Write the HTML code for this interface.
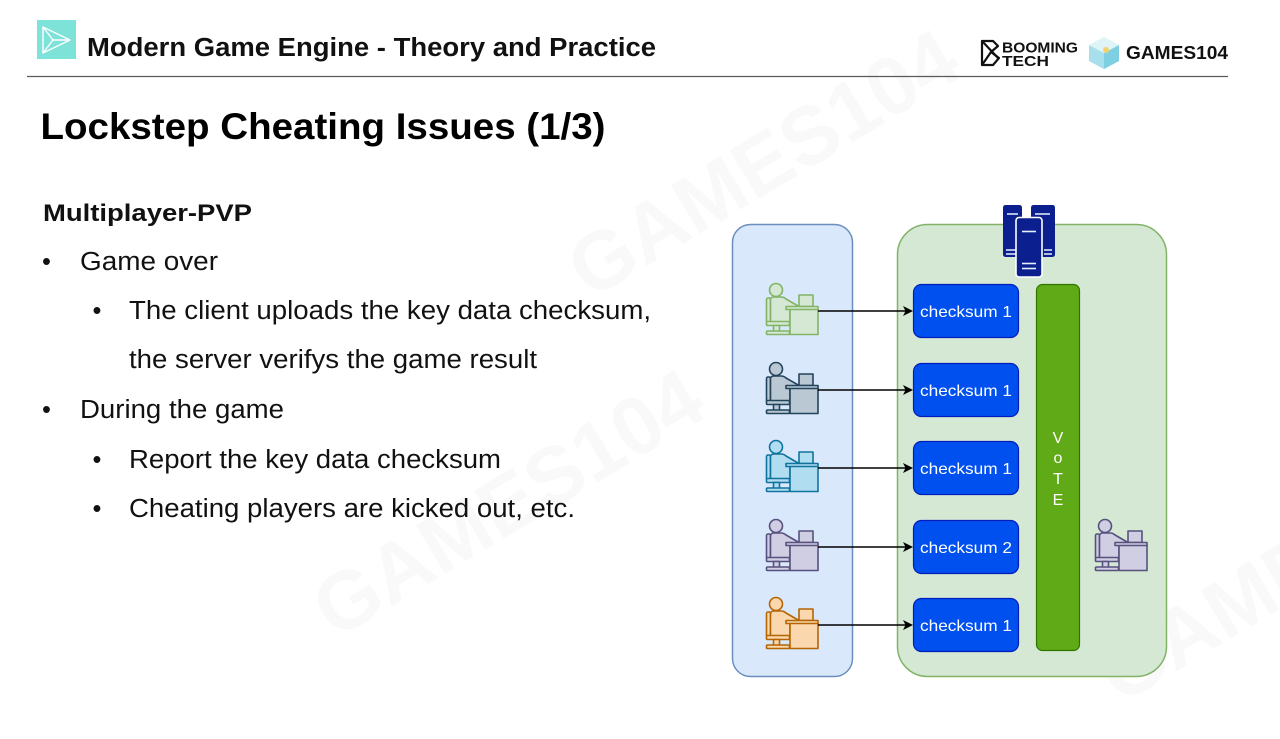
<!DOCTYPE html>
<html>
<head>
<meta charset="utf-8">
<style>
  html, body { margin: 0; padding: 0; background: #ffffff; }
  body { width: 1280px; height: 739px; overflow: hidden; }
  svg { display: block; }
  text { font-family: "Liberation Sans", Arial, sans-serif; }
</style>
</head>
<body>
<svg width="1280" height="739" viewBox="0 0 1280 739" xmlns="http://www.w3.org/2000/svg">
  <defs>
    <g id="person">
      <rect x="11.5" y="18" width="4" height="25" rx="1.5"/>
      <path d="M15.5,20 Q15.5,17 19,17 L26,17 Q29,17 31,19 L44,26.5 L44,30 L35,29 L35,42 L15.5,42 Z"/>
      <circle cx="21" cy="10" r="6.5"/>
      <rect x="11.5" y="41.5" width="23" height="4" rx="1"/>
      <rect x="18.5" y="45.5" width="6" height="6"/>
      <rect x="11.5" y="51" width="23" height="3.5" rx="1"/>
      <rect x="44" y="15" width="14" height="11.5"/>
      <rect x="35" y="29" width="28" height="25.5"/>
      <rect x="31" y="26.5" width="32" height="3"/>
    </g>
  </defs>

  <!-- faint watermarks -->
  <g fill="#f9f9f9" font-weight="bold" font-size="82">
    <text transform="translate(335,640) rotate(-31)">GAMES104</text>
    <text transform="translate(590,300) rotate(-31)">GAMES104</text>
    <text transform="translate(1120,705) rotate(-31)">GAMES104</text>
  </g>

  <!-- header logo -->
  <rect x="37" y="20" width="39" height="39" fill="#7de2d8"/>
  <path d="M43,27 L70,40 L43,53 Z M43,53 L53,40 L70,40 M53,40 L43,27" fill="none" stroke="#ffffff" stroke-width="1.4" stroke-linejoin="round"/>

  <!-- header title -->
  <text x="87" y="56" font-size="25.5" font-weight="bold" fill="#111" textLength="569" lengthAdjust="spacingAndGlyphs">Modern Game Engine - Theory and Practice</text>

  <!-- right logos -->
  <g fill="none" stroke="#111" stroke-width="2.2" stroke-linejoin="round">
    <path d="M982,41 L993,41 L998,46 L991,52 L999,58 L993,65 L982,65 Z"/>
    <path d="M982,41 L998,58 M982,65 L991,52"/>
  </g>
  <text x="1002" y="52.5" font-size="15" font-weight="bold" fill="#111" textLength="76" lengthAdjust="spacingAndGlyphs">BOOMING</text>
  <text x="1002" y="66" font-size="15" font-weight="bold" fill="#111" textLength="47" lengthAdjust="spacingAndGlyphs">TECH</text>
  <!-- cube -->
  <polygon points="1104,37 1119,45 1119,61 1104,69 1089,61 1089,45" fill="#bfe9f1"/>
  <polygon points="1104,53 1119,45 1119,61 1104,69" fill="#7fcfe3"/>
  <polygon points="1104,53 1089,45 1089,61 1104,69" fill="#a8dfec"/>
  <polygon points="1104,37 1119,45 1104,53 1089,45" fill="#dff4f7"/>
  <circle cx="1106" cy="50" r="3" fill="#f2d36a"/>
  <text x="1126" y="59" font-size="18.5" font-weight="bold" fill="#111" textLength="102" lengthAdjust="spacingAndGlyphs">GAMES104</text>

  <!-- header rule -->
  <line x1="27" y1="76.5" x2="1228" y2="76.5" stroke="#5a5a5a" stroke-width="1.3"/>

  <!-- slide title -->
  <text x="40.5" y="139" font-size="37" font-weight="bold" fill="#000" textLength="565" lengthAdjust="spacingAndGlyphs">Lockstep Cheating Issues (1/3)</text>

  <!-- body text -->
  <text x="43" y="221" font-size="24" font-weight="bold" fill="#111" textLength="209" lengthAdjust="spacingAndGlyphs">Multiplayer-PVP</text>

  <text x="42" y="270" font-size="25.5" fill="#111">•</text>
  <text x="80" y="270" font-size="25.5" fill="#111" textLength="138" lengthAdjust="spacingAndGlyphs">Game over</text>

  <text x="92.5" y="319" font-size="25.5" fill="#111">•</text>
  <text x="129" y="319" font-size="25.5" fill="#111" textLength="522" lengthAdjust="spacingAndGlyphs">The client uploads the key data checksum,</text>
  <text x="129" y="368" font-size="25.5" fill="#111" textLength="408" lengthAdjust="spacingAndGlyphs">the server verifys the game result</text>

  <text x="42" y="418" font-size="25.5" fill="#111">•</text>
  <text x="80" y="418" font-size="25.5" fill="#111" textLength="204" lengthAdjust="spacingAndGlyphs">During the game</text>

  <text x="92.5" y="468" font-size="25.5" fill="#111">•</text>
  <text x="129" y="468" font-size="25.5" fill="#111" textLength="372" lengthAdjust="spacingAndGlyphs">Report the key data checksum</text>

  <text x="92.5" y="517" font-size="25.5" fill="#111">•</text>
  <text x="129" y="517" font-size="25.5" fill="#111" textLength="446" lengthAdjust="spacingAndGlyphs">Cheating players are kicked out, etc.</text>

  <!-- diagram containers -->
  <rect x="732.5" y="224.5" width="120" height="452" rx="18" fill="#dae8fc" stroke="#6c8ebf" stroke-width="1.5"/>
  <rect x="897.5" y="224.5" width="269" height="452" rx="30" fill="#d5e8d4" stroke="#82b366" stroke-width="1.5"/>

  <!-- server icon -->
  <g>
    <rect x="1003" y="205" width="19" height="52" rx="2.5" fill="#0c1f8e"/>
    <rect x="1031" y="205" width="24" height="52" rx="2.5" fill="#0c1f8e"/>
    <line x1="1006" y1="250" x2="1017" y2="250" stroke="#e6f0ff" stroke-width="1.5"/>
    <line x1="1006" y1="254" x2="1017" y2="254" stroke="#e6f0ff" stroke-width="1.5"/>
    <line x1="1044" y1="250" x2="1052" y2="250" stroke="#e6f0ff" stroke-width="1.5"/>
    <line x1="1044" y1="254" x2="1052" y2="254" stroke="#e6f0ff" stroke-width="1.5"/>
    <line x1="1035" y1="214" x2="1050" y2="214" stroke="#e6f0ff" stroke-width="1.5"/>
    <line x1="1007" y1="214" x2="1018" y2="214" stroke="#e6f0ff" stroke-width="1.5"/>
    <rect x="1016" y="217.5" width="26" height="59.5" rx="3" fill="#0c1f8e" stroke="#ffffff" stroke-width="1.6"/>
    <line x1="1022" y1="231.5" x2="1036" y2="231.5" stroke="#e6f0ff" stroke-width="1.6"/>
    <line x1="1022" y1="263.5" x2="1036" y2="263.5" stroke="#e6f0ff" stroke-width="1.6"/>
    <line x1="1022" y1="268.5" x2="1036" y2="268.5" stroke="#e6f0ff" stroke-width="1.6"/>
  </g>

  <!-- persons -->
  <use href="#person" transform="translate(755,280)" fill="#d5e8d4" stroke="#82b366" stroke-width="1.6" stroke-linejoin="round"/>
  <use href="#person" transform="translate(755,359)" fill="#bac8d3" stroke="#23445d" stroke-width="1.6" stroke-linejoin="round"/>
  <use href="#person" transform="translate(755,437)" fill="#b1ddf0" stroke="#10739e" stroke-width="1.6" stroke-linejoin="round"/>
  <use href="#person" transform="translate(755,516)" fill="#d0cee2" stroke="#56517e" stroke-width="1.6" stroke-linejoin="round"/>
  <use href="#person" transform="translate(755,594)" fill="#fad7ac" stroke="#b46504" stroke-width="1.6" stroke-linejoin="round"/>
  <use href="#person" transform="translate(1084,516)" fill="#d0cee2" stroke="#56517e" stroke-width="1.6" stroke-linejoin="round"/>

  <!-- arrows -->
  <g stroke="#000" stroke-width="1.4" fill="#000">
    <line x1="818" y1="311" x2="906" y2="311"/>
    <polygon points="913,311 903,306 905.5,311 903,316" stroke="none"/>
    <line x1="818" y1="390" x2="906" y2="390"/>
    <polygon points="913,390 903,385 905.5,390 903,395" stroke="none"/>
    <line x1="818" y1="468" x2="906" y2="468"/>
    <polygon points="913,468 903,463 905.5,468 903,473" stroke="none"/>
    <line x1="818" y1="547" x2="906" y2="547"/>
    <polygon points="913,547 903,542 905.5,547 903,552" stroke="none"/>
    <line x1="818" y1="625" x2="906" y2="625"/>
    <polygon points="913,625 903,620 905.5,625 903,630" stroke="none"/>
  </g>

  <!-- checksum boxes -->
  <g fill="#0050ef" stroke="#001dbc" stroke-width="1.2">
    <rect x="913.5" y="284.5" width="105" height="53" rx="8"/>
    <rect x="913.5" y="363.5" width="105" height="53" rx="8"/>
    <rect x="913.5" y="441.5" width="105" height="53" rx="8"/>
    <rect x="913.5" y="520.5" width="105" height="53" rx="8"/>
    <rect x="913.5" y="598.5" width="105" height="53" rx="8"/>
  </g>
  <g fill="#ffffff" font-size="16" text-anchor="middle">
    <text x="966" y="317" textLength="92" lengthAdjust="spacingAndGlyphs">checksum 1</text>
    <text x="966" y="396" textLength="92" lengthAdjust="spacingAndGlyphs">checksum 1</text>
    <text x="966" y="474" textLength="92" lengthAdjust="spacingAndGlyphs">checksum 1</text>
    <text x="966" y="553" textLength="92" lengthAdjust="spacingAndGlyphs">checksum 2</text>
    <text x="966" y="631" textLength="92" lengthAdjust="spacingAndGlyphs">checksum 1</text>
  </g>

  <!-- vote bar -->
  <rect x="1036.5" y="284.5" width="43" height="366" rx="6" fill="#60a917" stroke="#2d7600" stroke-width="1.2"/>
  <g fill="#ffffff" font-size="16" text-anchor="middle">
    <text x="1058" y="443">V</text>
    <text x="1058" y="463">o</text>
    <text x="1058" y="484">T</text>
    <text x="1058" y="505">E</text>
  </g>
</svg>
</body>
</html>
